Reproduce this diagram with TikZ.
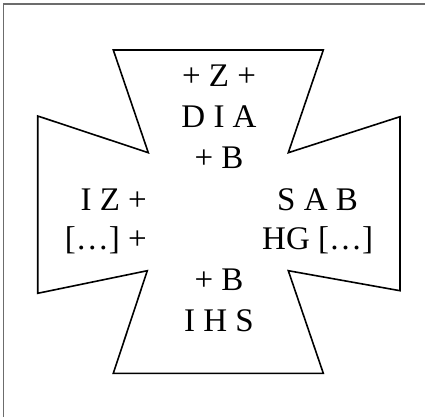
\documentclass[tikz,border=0pt]{standalone}
\usepackage{fontspec}
\setmainfont{Liberation Serif}
\begin{document}
\begin{tikzpicture}[x=1pt,y=-1pt,
  lbl/.style={font=\fontsize{33}{40}\selectfont, anchor=base, inner sep=0pt},
  crossline/.style={draw=black, line width=1.6pt, line join=miter}]
\useasboundingbox (0,0) rectangle (425,417);
\fill[white] (0,0) rectangle (425,417);
\draw[gray!85!black, line width=1.8pt] (3.5,417) -- (3.5,4) -- (425,4);
\path[crossline]
  (113.3,50) -- (323.3,50) -- (288.3,152.7) -- (400,116.7) -- (400,290.7)
  -- (288.3,270.7) -- (323.3,373.3) -- (113.3,373.3) -- (147.3,270.7)
  -- (37.7,293.3) -- (37.7,116) -- (148.3,152.7) -- cycle;
\node[lbl] (t1) at (219,87) {+ Z +};
\node[lbl] (t2) at (219,128) {D I A};
\node[lbl] (t3) at (219,168) {+ B};
\node[lbl, anchor=base east] (l1) at (147,210) {I Z +};
\node[lbl, anchor=base east] (l2) at (147,249) {[…] +};
\node[lbl, anchor=base west] (r1) at (277,210) {S A B};
\node[lbl, anchor=base west] (r2) at (262,249) {HG […]};
\node[lbl] (b1) at (219,290) {+ B};
\node[lbl] (b2) at (219,331) {I H S};
\end{tikzpicture}
\end{document}
